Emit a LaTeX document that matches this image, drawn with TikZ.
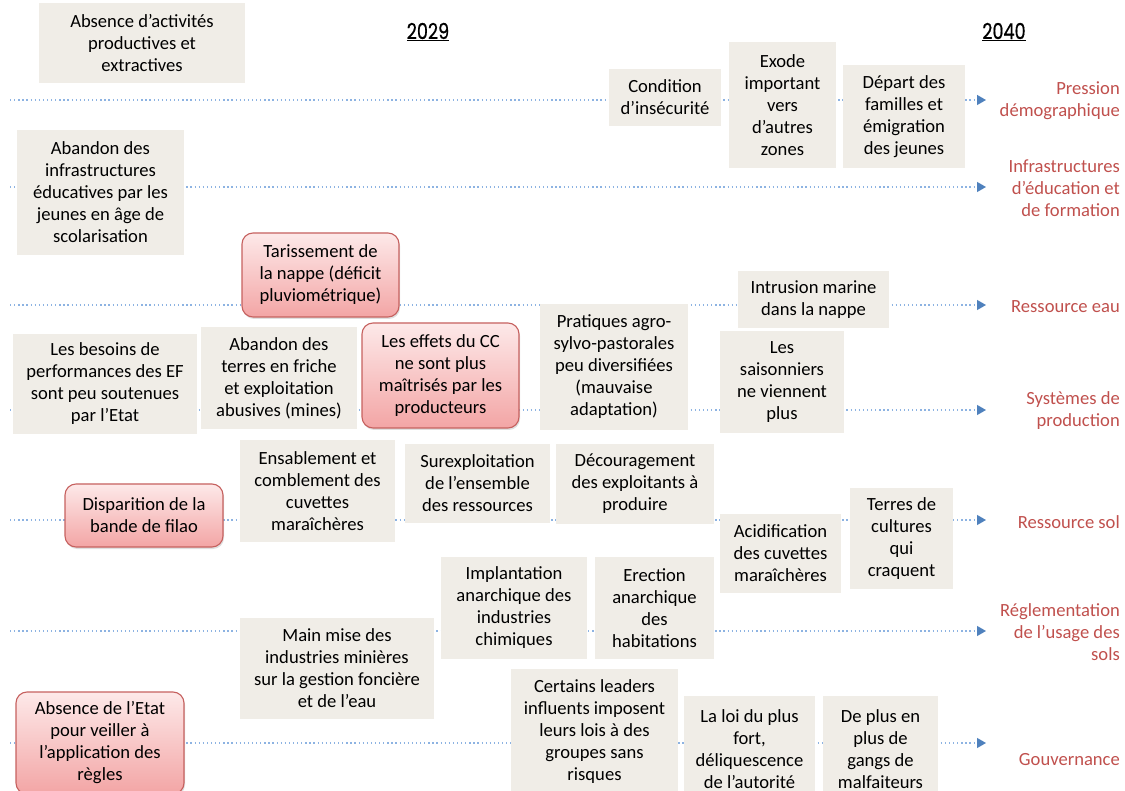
\documentclass[tikz,border=0pt]{standalone}
\usepackage{fontspec}
\setmainfont{Carlito}
\newfontfamily\yearfont[FakeStretch=0.8,FakeBold=0.6]{Poppins}
\usepackage{xcolor}
\usetikzlibrary{arrows.meta,shadows}
\definecolor{beige}{HTML}{F0EDE7}
\definecolor{rouge}{HTML}{C0504D}
\definecolor{bleu}{HTML}{4F81BD}
\definecolor{pointille}{HTML}{8DB3E2}
\definecolor{roseh}{HTML}{FDE9E9}
\definecolor{roseb}{HTML}{F3A5A5}
\tikzset{
  box/.style={fill=beige, inner sep=0pt, align=center, font=\fontsize{18.6}{22}\selectfont},
  alarm/.style={box, draw=rouge!90, line width=1.1pt, rounded corners=11pt, top color=roseh, bottom color=roseb,
                drop shadow={opacity=0.25, shadow xshift=1pt, shadow yshift=-2pt}},
  cat/.style={anchor=east, align=right, inner sep=0pt, text=rouge, font=\fontsize{18.6}{22}\selectfont},
  yr/.style={inner sep=0pt, font=\yearfont\fontsize{22}{24}\selectfont},
  axe/.style={draw=pointille, line width=1.3pt, dash pattern=on 1.3pt off 2.8pt,
              -{Triangle[length=9pt,width=10pt,color=bleu]}},
}
\begin{document}
\begin{tikzpicture}[x=1pt,y=-1pt]
  \path[use as bounding box] (0,0) rectangle (1125,791);
  \clip (0,0) rectangle (1125,791);
  % axes
  \foreach \n/\y in {1/100,2/187,3/305,4/410,5/520,6/631,7/743}{
    \coordinate (s\n) at (10,\y); \coordinate (t\n) at (986,\y);
    \draw[axe] (s\n) -- (t\n);
  }
  \node[yr] (y29) at (428,32) {\underline{2029}};
  \node[yr] (y40) at (1004,32) {\underline{2040}};
  % categories
  \node[cat] (pres) at (1120,101) {Pression\\démographique};
  \node[cat] (infra) at (1120,188) {Infrastructures\\d’éducation et\\de formation};
  \node[cat] (eau) at (1120,307) {Ressource eau};
  \node[cat] (prod) at (1120,411) {Systèmes de\\production};
  \node[cat] (sol) at (1120,522) {Ressource sol};
  \node[cat] (regl) at (1120,632) {Réglementation\\de l’usage des\\sols};
  \node[cat] (gouv) at (1120,760) {Gouvernance};
  % facteurs
  \node[box,minimum width=206,minimum height=80] (absAct) at (142,43) {Absence d’activités\\productives et\\extractives};
  \node[box,minimum width=112,minimum height=57] (insec) at (665,97.5) {Condition\\d’insécurité};
  \node[box,minimum width=107,minimum height=126] (exode) at (782.5,105) {Exode\\important\\vers\\d’autres\\zones};
  \node[box,minimum width=122,minimum height=103] (depart) at (904,116.5) {Départ des\\familles et\\émigration\\des jeunes};
  \node[box,minimum width=167,minimum height=125] (abInfra) at (100.5,192.5) {Abandon des\\infrastructures\\éducatives par les\\jeunes en âge de\\scolarisation};
  \node[alarm,minimum width=157,minimum height=84] (taris) at (320.5,275) {Tarissement de\\la nappe (déficit\\pluviométrique)};
  \node[box,minimum width=151,minimum height=57] (intrus) at (813.5,299.5) {Intrusion marine\\dans la nappe};
  \node[box,minimum width=184,minimum height=100] (besoins) at (105,384) {Les besoins de\\performances des EF\\sont peu soutenues\\par l’Etat};
  \node[box,minimum width=156,minimum height=102] (abTerres) at (279,378) {Abandon des\\terres en friche\\et exploitation\\abusives (mines)};
  \node[alarm,minimum width=157,minimum height=105] (effetsCC) at (440.5,375.5) {Les effets du CC\\ne sont plus\\maîtrisés par les\\producteurs};
  \node[box,minimum width=148,minimum height=126] (pratiq) at (614,367) {Pratiques agro-\\sylvo-pastorales\\peu diversifiées\\(mauvaise\\adaptation)};
  \node[box,minimum width=124,minimum height=102] (saison) at (782,382) {Les\\saisonniers\\ne viennent\\plus};
  \node[alarm,minimum width=158,minimum height=63] (filao) at (144,515.5) {Disparition de la\\bande de filao};
  \node[box,minimum width=155,minimum height=102] (ensabl) at (317.5,491) {Ensablement et\\comblement des\\cuvettes\\maraîchères};
  \node[box,minimum width=145,minimum height=79] (surexp) at (477.5,483.5) {Surexploitation\\de l’ensemble\\des ressources};
  \node[box,minimum width=158,minimum height=80] (decour) at (635,484) {Découragement\\des exploitants à\\produire};
  \node[box,minimum width=121,minimum height=79] (acidif) at (780.5,553.5) {Acidification\\des cuvettes\\maraîchères};
  \node[box,minimum width=103,minimum height=101] (terres) at (901.5,538.5) {Terres de\\cultures\\qui\\craquent};
  \node[box,minimum width=146,minimum height=102] (implant) at (514,608) {Implantation\\anarchique des\\industries\\chimiques};
  \node[box,minimum width=119,minimum height=102] (erect) at (654.5,608) {Erection\\anarchique\\des\\habitations};
  \node[box,minimum width=194,minimum height=101] (mainMise) at (337,668.5) {Main mise des\\industries minières\\sur la gestion foncière\\et de l’eau};
  \node[alarm,minimum width=168,minimum height=102] (absEtat) at (100,743) {Absence de l’Etat\\pour veiller à\\l’application des\\règles};
  \node[box,minimum width=167,minimum height=125] (leaders) at (594.5,731.5) {Certains leaders\\influents imposent\\leurs lois à des\\groupes sans\\risques};
  \node[box,minimum width=131,minimum height=106] (loi) at (749.5,749) {La loi du plus\\fort,\\déliquescence\\de l’autorité};
  \node[box,minimum width=115,minimum height=106] (gangs) at (880.5,749) {De plus en\\plus de\\gangs de\\malfaiteurs};
\end{tikzpicture}
\end{document}
